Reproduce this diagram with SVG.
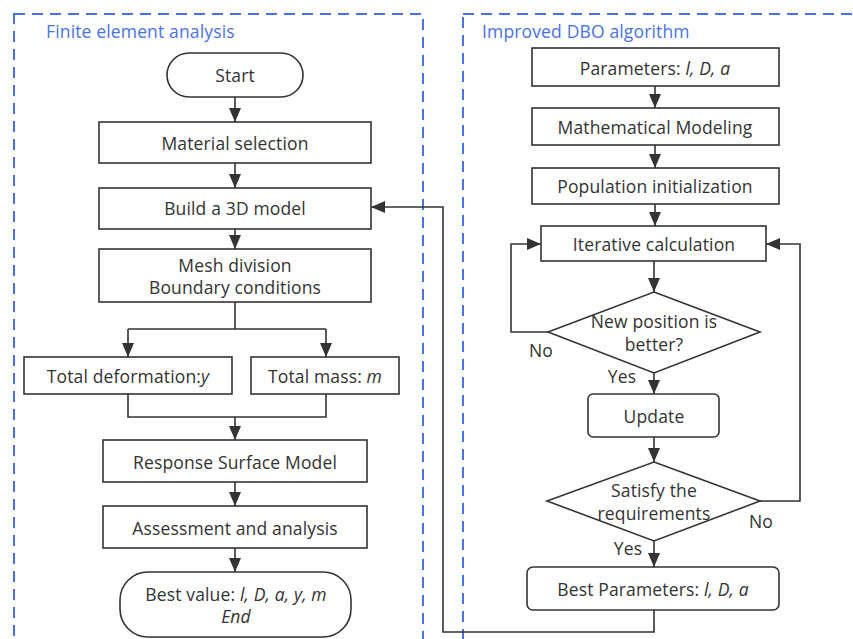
<svg xmlns="http://www.w3.org/2000/svg" width="853" height="639" viewBox="0 0 853 639">
<style>
.box{fill:#fff;stroke:#333;stroke-width:1.6}
.t{font-family:"Open Sans","Noto Sans",sans-serif;font-size:17.5px;letter-spacing:0.15px;fill:#333;text-anchor:middle;dominant-baseline:central}
.i{font-style:italic}
.title{font-family:"Open Sans","Noto Sans",sans-serif;font-size:17.5px;letter-spacing:0.15px;fill:#4a72e8}
.frame{fill:none;stroke:#4a72e8;stroke-width:2;stroke-dasharray:11 7}
.c{fill:none;stroke:#333;stroke-width:1.6}
.a{marker-end:url(#ah)}
</style>
<defs>
<marker id="ah" markerUnits="userSpaceOnUse" markerWidth="14" markerHeight="12" refX="14" refY="6" orient="auto">
<path d="M0,0 L14,6 L0,12 z" fill="#333"/>
</marker>
</defs>
<rect width="853" height="639" fill="#fff"/>
<g id="frame-fea">
<rect class="frame" x="14" y="14" width="409" height="640"/>
<text class="title" x="46" y="38">Finite element analysis</text>
</g>
<g id="frame-dbo">
<rect class="frame" x="463" y="14" width="420" height="640"/>
<text class="title" x="482" y="38">Improved DBO algorithm</text>
</g>
<g id="connectors">
<path class="c a" d="M235,97 V122"/>
<path class="c a" d="M235,163 V188"/>
<path class="c a" d="M235,229 V249"/>
<path class="c" d="M235,302 V329 M128,329 H326"/>
<path class="c a" d="M128,329 V357"/>
<path class="c a" d="M326,329 V357"/>
<path class="c" d="M128,394 V417 H326 V394"/>
<path class="c a" d="M235,417 V440"/>
<path class="c a" d="M235,482 V506"/>
<path class="c a" d="M235,548 V572"/>
<path class="c a" d="M655,86 V108"/>
<path class="c a" d="M655,145 V168"/>
<path class="c a" d="M655,204 V226"/>
<path class="c a" d="M654,261 V292"/>
<path class="c a" d="M654,373 V394"/>
<path class="c a" d="M654,437 V462"/>
<path class="c a" d="M654,541 V567"/>
<path class="c a" d="M548,332 H511 V244 H541"/>
<path class="c a" d="M760,501 H800 V244 H766"/>
<path class="c a" d="M654,610 V632 H443 V207 H371"/>
<text class="t" x="541" y="350">No</text>
<text class="t" x="622" y="376">Yes</text>
<text class="t" x="761" y="521">No</text>
<text class="t" x="628" y="548">Yes</text>
</g>
<g id="start"><rect class="box" x="167" y="53" width="136" height="44" rx="22"/><text class="t" x="235" y="75">Start</text></g>
<g id="material"><rect class="box" x="99" y="122" width="272" height="41"/><text class="t" x="235" y="143">Material selection</text></g>
<g id="build"><rect class="box" x="99" y="188" width="272" height="41"/><text class="t" x="235" y="208">Build a 3D model</text></g>
<g id="mesh"><rect class="box" x="99" y="249" width="272" height="53"/><text class="t" x="235" y="265">Mesh division</text><text class="t" x="235" y="287">Boundary conditions</text></g>
<g id="deformation"><rect class="box" x="24" y="357" width="208" height="37"/><text class="t" x="128" y="376">Total deformation:<tspan class="i">y</tspan></text></g>
<g id="mass"><rect class="box" x="251" y="357" width="148" height="37"/><text class="t" x="325" y="376">Total mass: <tspan class="i">m</tspan></text></g>
<g id="rsm"><rect class="box" x="103" y="440" width="264" height="42"/><text class="t" x="235" y="462">Response Surface Model</text></g>
<g id="assessment"><rect class="box" x="103" y="506" width="264" height="42"/><text class="t" x="235" y="528">Assessment and analysis</text></g>
<g id="bestvalue"><rect class="box" x="120" y="572" width="231" height="65" rx="28"/><text class="t" x="236" y="594">Best value: <tspan class="i">l, D, a, y, m</tspan></text><text class="t i" x="236" y="616">End</text></g>
<g id="params"><rect class="box" x="532" y="48" width="247" height="38"/><text class="t" x="655" y="68">Parameters: <tspan class="i">l, D, a</tspan></text></g>
<g id="mathmodel"><rect class="box" x="532" y="108" width="247" height="37"/><text class="t" x="655" y="127">Mathematical Modeling</text></g>
<g id="population"><rect class="box" x="532" y="168" width="247" height="36"/><text class="t" x="655" y="186">Population initialization</text></g>
<g id="iterative"><rect class="box" x="541" y="226" width="225" height="35"/><text class="t" x="654" y="244">Iterative calculation</text></g>
<g id="newpos"><polygon class="box" points="654,292 760,332 654,373 548,332"/><text class="t" x="654" y="321">New position is</text><text class="t" x="654" y="344">better?</text></g>
<g id="update"><rect class="box" x="588" y="394" width="131" height="43" rx="5"/><text class="t" x="654" y="416">Update</text></g>
<g id="satisfy"><polygon class="box" points="654,462 760,501 654,541 547,501"/><text class="t" x="654" y="490">Satisfy the</text><text class="t" x="654" y="513">requirements</text></g>
<g id="bestparams"><rect class="box" x="527" y="567" width="252" height="43" rx="6"/><text class="t" x="653" y="589">Best Parameters: <tspan class="i">l, D, a</tspan></text></g>
</svg>
